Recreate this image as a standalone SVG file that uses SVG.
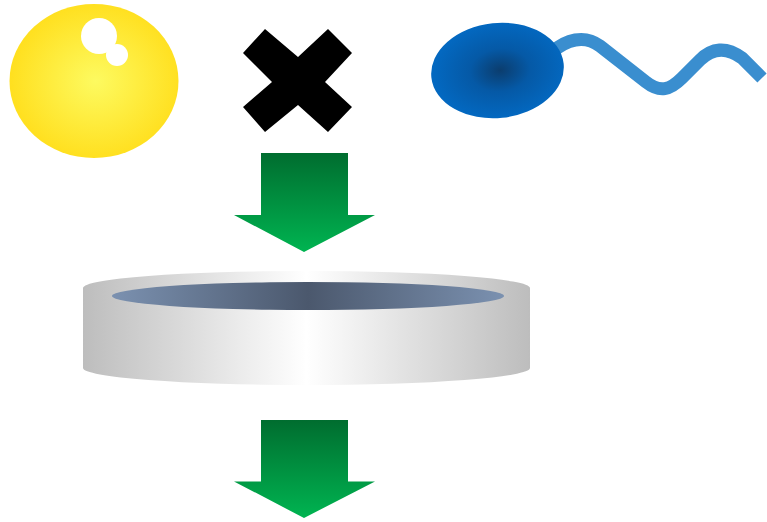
<svg xmlns="http://www.w3.org/2000/svg" width="767" height="522" viewBox="0 0 767 522">
  <defs>
    <radialGradient id="gYellow" cx="0.51" cy="0.5" r="0.5">
      <stop offset="0" stop-color="#fdfa60"/>
      <stop offset="1" stop-color="#ffe020"/>
    </radialGradient>
    <radialGradient id="gBlue" cx="0.52" cy="0.5" r="0.5">
      <stop offset="0" stop-color="#0b3d6e"/>
      <stop offset="0.45" stop-color="#0559a6"/>
      <stop offset="1" stop-color="#0368c0"/>
    </radialGradient>
    <linearGradient id="gGreen" x1="0" y1="0" x2="0" y2="1">
      <stop offset="0" stop-color="#006d2f"/>
      <stop offset="1" stop-color="#00b451"/>
    </linearGradient>
    <linearGradient id="gDish" x1="83" y1="0" x2="530" y2="0" gradientUnits="userSpaceOnUse">
      <stop offset="0" stop-color="#bdbdbd"/>
      <stop offset="0.25" stop-color="#dedede"/>
      <stop offset="0.5" stop-color="#ffffff"/>
      <stop offset="0.75" stop-color="#dedede"/>
      <stop offset="1" stop-color="#bdbdbd"/>
    </linearGradient>
    <linearGradient id="gWell" x1="112" y1="0" x2="504" y2="0" gradientUnits="userSpaceOnUse">
      <stop offset="0" stop-color="#7b91b0"/>
      <stop offset="0.5" stop-color="#4b586d"/>
      <stop offset="1" stop-color="#7b91b0"/>
    </linearGradient>
    <path id="downArrow" d="M0 0 H87 V62 H114 L43 99 L-27 62 H0 Z"/>
  </defs>
  <style>
    .arrow { fill: url(#gGreen); }
    .shine { fill: #ffffff; }
  </style>

  <!-- yellow cell with highlights -->
  <g id="yellowCell">
    <ellipse cx="94" cy="81" rx="84.5" ry="77" fill="url(#gYellow)"/>
    <circle class="shine" cx="99" cy="36" r="18"/>
    <circle class="shine" cx="117" cy="55" r="11"/>
  </g>

  <!-- cross mark -->
  <g id="crossMark">
    <polygon fill="#000000" points="265,29 298,57 328,29 352,53 325,82 352,107 328,132 298,105 265,132 243,107 272,82 243,53"/>
  </g>

  <!-- flagellated bacterium -->
  <g id="bacterium">
    <path d="M552 52 C566 40 584 34 600 46 L646 82 C660 93 670 90 682 78 L700 60 C712 48 726 46 742 58 L762 78" fill="none" stroke="#3a8ecf" stroke-width="13"/>
    <ellipse cx="497.5" cy="70.5" rx="66.5" ry="47.5" transform="rotate(-6 497.5 70.5)" fill="url(#gBlue)"/>
  </g>

  <!-- flow arrows -->
  <g id="connectors">
    <use href="#downArrow" class="arrow" transform="translate(261 153)"/>
    <use href="#downArrow" class="arrow" transform="translate(261 420) scale(1 0.99)"/>
  </g>

  <!-- culture dish -->
  <g id="dish">
    <path d="M83 288 A223.5 17 0 0 1 530 288 L530 368 A223.5 17 0 0 1 83 368 Z" fill="url(#gDish)"/>
    <ellipse cx="308" cy="296" rx="196" ry="14" fill="url(#gWell)"/>
  </g>
</svg>
